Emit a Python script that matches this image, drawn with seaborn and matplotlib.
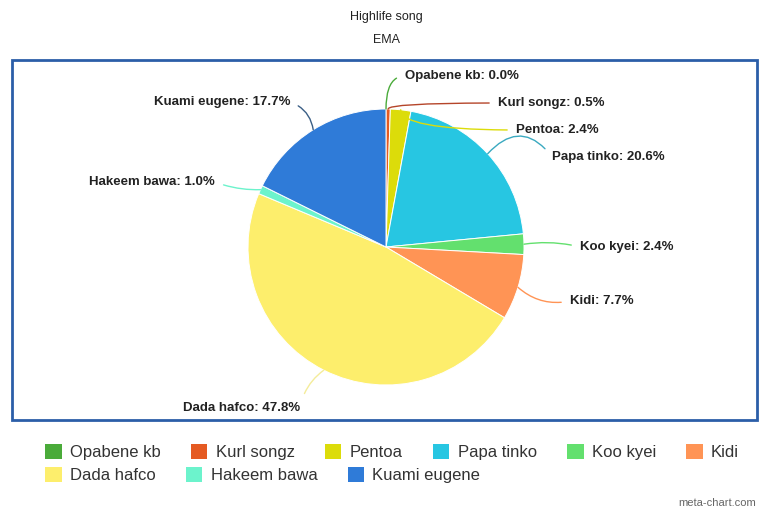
import numpy as np
import matplotlib.pyplot as plt
import seaborn as sns
from matplotlib.patches import Rectangle, Patch

# data
singers = ['Opabene kb', 'Kurl songz', 'Pentoa', 'Papa tinko', 'Koo kyei',
           'Kidi', 'Dada hafco', 'Hakeem bawa', 'Kuami eugene']
shares = [0.0, 0.5, 2.4, 20.6, 2.4, 7.7, 47.8, 1.0, 17.7]
colors = ['#4aab3a', '#e55a22', '#dcdc0a', '#27c6e2', '#63e06e',
          '#ff9455', '#fdee6c', '#6cf3cc', '#2f7bd8']
line_colors = ['#4aab3a', '#b5452a', '#dcdc0a', '#3aa9c0', '#63e06e',
               '#ff9455', '#f4ec9a', '#6cf3cc', '#3b5f86']

sns.set_theme(style='white')
plt.rcParams['font.family'] = ['Liberation Sans', 'DejaVu Sans']

W, H = 770, 513
fig = plt.figure(figsize=(W / 100, H / 100), dpi=100)
ax = fig.add_axes([0, 0, 1, 1])

# pixel helper (image y goes down)
def py(y):
    return H - y

cx, cy, r = 386, py(247), 138
wedges, _ = ax.pie(shares, colors=colors, startangle=90, counterclock=False,
                   center=(cx, cy), radius=r, frame=True,
                   wedgeprops=dict(edgecolor='white', linewidth=0.7))
ax.set_xlim(0, W)
ax.set_ylim(0, H)
ax.set_aspect('equal')
ax.set_axis_off()

# chart frame
ax.add_patch(Rectangle((12, py(420)), 745, 360, fill=False,
                       edgecolor='#2b5ea8', linewidth=2))

# titles
ax.text(386, py(17), 'Highlife song', ha='center', va='center', fontsize=9, color='#222222')
ax.text(386, py(40), 'EMA', ha='center', va='center', fontsize=9, color='#222222')

# label layout (pixel positions of text anchor)
label_pos = [(405, 76, 'left'), (498, 103, 'left'), (516, 130, 'left'),
             (552, 157, 'left'), (580, 247, 'left'), (570, 301, 'left'),
             (300, 408, 'right'), (215, 182, 'right'), (290, 102, 'right')]
conn = ['angle3,angleA=0,angleB=90', 'angle3,angleA=0,angleB=90',
        'angle3,angleA=0,angleB=90', 'arc3,rad=0.6', 'arc3,rad=0.1',
        'arc3,rad=-0.25', 'arc3,rad=-0.2', 'arc3,rad=0.1', 'arc3,rad=-0.3']

for w, name, val, (tx, ty, ha), cs, col in zip(wedges, singers, shares, label_pos, conn, line_colors):
    mid = np.deg2rad((w.theta1 + w.theta2) / 2)
    px = cx + r * np.cos(mid)
    pyy = cy + r * np.sin(mid)
    rel = (0, 0.5) if ha == 'left' else (1, 0.5)
    ax.annotate(f'{name}: {val:.1f}%', xy=(px, pyy), xytext=(tx, py(ty)),
                ha=ha, va='center', fontsize=9.5, fontweight='bold', color='#222222',
                arrowprops=dict(arrowstyle='-', color=col, lw=1, relpos=rel,
                                connectionstyle=cs, shrinkA=4, shrinkB=0))

# legend in two flowing rows
handles = [Patch(facecolor=c, edgecolor='none') for c in colors]
for rows, y in [(range(0, 6), 452), (range(6, 9), 475)]:
    leg = fig.legend([handles[i] for i in rows], [singers[i] for i in rows],
                     loc='center left', bbox_to_anchor=(45 / W, 1 - y / H),
                     ncol=len(rows), frameon=False, fontsize=12,
                     handlelength=1.0, handleheight=1.0, handletextpad=0.5,
                     columnspacing=1.8, borderpad=0, borderaxespad=0)
    for t in leg.get_texts():
        t.set_color('#333333')

ax.text(756, py(503), 'meta-chart.com', ha='right', va='center', fontsize=8, color='#666666')

plt.savefig('out.png', dpi=100)
